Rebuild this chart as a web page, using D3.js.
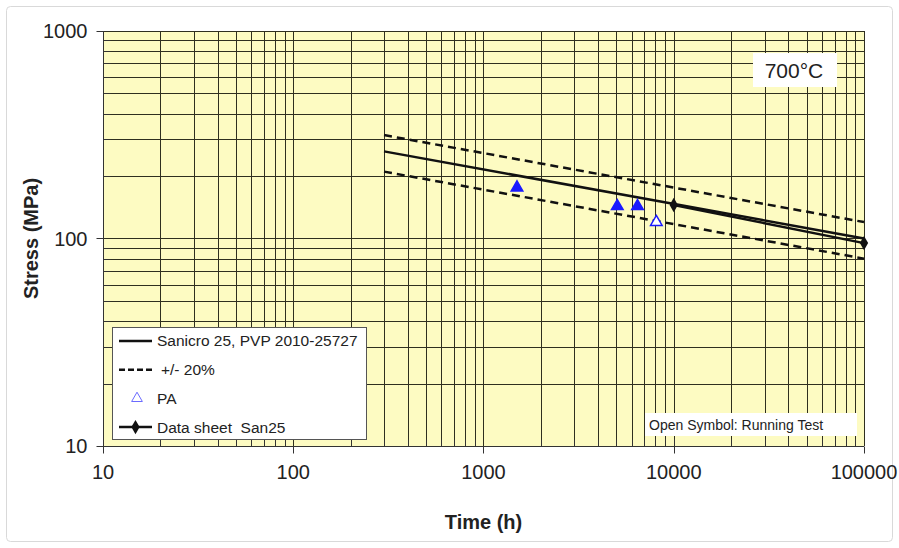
<!DOCTYPE html>
<html>
<head>
<meta charset="utf-8">
<script src="https://cdn.jsdelivr.net/npm/d3@7"></script>
<style>
  body { margin: 0; background: #fff; }
  text { font-family: "Liberation Sans", Arial, sans-serif; white-space: pre; }
</style>
</head>
<body>
<div id="chart"></div>
<script>
/**
 * DATA
 * */
const xTicks = [10, 100, 1000, 10000, 100000];
const yTicks = [10, 100, 1000];

// Sanicro 25, PVP 2010-25727
const pvpTime = [300, 100000];
const pvpStress = [263, 100];

// +/- 20% band
const bandTime = [300, 100000];
const bandUpper = [315, 120];
const bandLower = [210, 80];

// PA tests (open = running)
const paTime = [1500, 5050, 6450, 8100];
const paStress = [176, 143, 143, 120];
const paRunning = [false, false, false, true];

// Data sheet San25
const sheetTime = [10000, 100000];
const sheetStress = [145, 95];

/**
 * CONSTANTS
 * */
const width = 899,
  height = 548,
  margin = { top: 31, bottom: 102, left: 103, right: 35 };

const svg = d3.select("#chart")
  .append("svg")
  .attr("width", width)
  .attr("height", height);

// outer chart border
svg.append("rect")
  .attr("x", 6.5).attr("y", 6.5)
  .attr("width", 886).attr("height", 535)
  .attr("rx", 4)
  .attr("fill", "#fff")
  .attr("stroke", "#d9d9d9");

const x = d3.scaleLog()
  .domain([10, 100000])
  .range([margin.left, width - margin.right]);

const y = d3.scaleLog()
  .domain([10, 1000])
  .range([height - margin.bottom, margin.top]);

// plot background
svg.append("rect")
  .attr("x", margin.left).attr("y", margin.top)
  .attr("width", x.range()[1] - x.range()[0])
  .attr("height", y.range()[0] - y.range()[1])
  .attr("fill", "#fdfbc2");

// grid lines (major + minor)
const xGrid = x.ticks();
const yGrid = y.ticks();
const grid = svg.append("g").attr("stroke", "#2f2f1f").attr("stroke-width", 1);

grid.selectAll(".vg")
  .data(xGrid)
  .join("line")
  .attr("x1", d => Math.round(x(d)) + 0.5)
  .attr("x2", d => Math.round(x(d)) + 0.5)
  .attr("y1", y.range()[1])
  .attr("y2", y.range()[0]);

grid.selectAll(".hg")
  .data(yGrid)
  .join("line")
  .attr("y1", d => Math.round(y(d)) + 0.5)
  .attr("y2", d => Math.round(y(d)) + 0.5)
  .attr("x1", x.range()[0])
  .attr("x2", x.range()[1]);

// axes
const xAxis = svg.append("g")
  .attr("transform", `translate(0,${Math.round(y.range()[0]) + 0.5})`);
xAxis.selectAll(".minor")
  .data(xGrid)
  .join("line")
  .attr("x1", d => Math.round(x(d)) + 0.5)
  .attr("x2", d => Math.round(x(d)) + 0.5)
  .attr("y1", 0)
  .attr("y2", d => xTicks.includes(d) ? 7 : -7)
  .attr("stroke", "#333");
xAxis.append("line")
  .attr("x1", x.range()[0]).attr("x2", x.range()[1])
  .attr("stroke", "#333");
xAxis.selectAll(".lbl")
  .data(xTicks)
  .join("text")
  .attr("x", d => x(d))
  .attr("y", 32)
  .attr("text-anchor", "middle")
  .attr("font-size", 20)
  .attr("fill", "#222")
  .text(d => d);

const yAxis = svg.append("g")
  .attr("transform", `translate(${Math.round(x.range()[0]) + 0.5},0)`);
yAxis.selectAll(".tk")
  .data(yGrid)
  .join("line")
  .attr("y1", d => Math.round(y(d)) + 0.5)
  .attr("y2", d => Math.round(y(d)) + 0.5)
  .attr("x1", d => yTicks.includes(d) ? -7 : 0)
  .attr("x2", d => yTicks.includes(d) ? 0 : 7)
  .attr("stroke", "#333");
yAxis.append("line")
  .attr("y1", y.range()[0]).attr("y2", y.range()[1])
  .attr("stroke", "#333");
yAxis.selectAll(".lbl")
  .data(yTicks)
  .join("text")
  .attr("x", -16)
  .attr("y", d => y(d))
  .attr("dy", "0.35em")
  .attr("text-anchor", "end")
  .attr("font-size", 20)
  .attr("fill", "#222")
  .text(d => d);

// axis titles
svg.append("text")
  .attr("x", (x.range()[0] + x.range()[1]) / 2)
  .attr("y", 529)
  .attr("text-anchor", "middle")
  .attr("font-size", 20)
  .attr("font-weight", "bold")
  .attr("fill", "#222")
  .text("Time (h)");

svg.append("text")
  .attr("transform", `translate(38,${(y.range()[0] + y.range()[1]) / 2}) rotate(-90)`)
  .attr("text-anchor", "middle")
  .attr("font-size", 20)
  .attr("font-weight", "bold")
  .attr("fill", "#222")
  .text("Stress (MPa)");

/**
 * SERIES
 * */
const line = d3.line().x(d => x(d[0])).y(d => y(d[1]));

svg.append("path")
  .datum(d3.zip(bandTime, bandUpper))
  .attr("d", line)
  .attr("fill", "none")
  .attr("stroke", "#111")
  .attr("stroke-width", 2.5)
  .attr("stroke-dasharray", "8,5");

svg.append("path")
  .datum(d3.zip(bandTime, bandLower))
  .attr("d", line)
  .attr("fill", "none")
  .attr("stroke", "#111")
  .attr("stroke-width", 2.5)
  .attr("stroke-dasharray", "8,5");

svg.append("path")
  .datum(d3.zip(pvpTime, pvpStress))
  .attr("d", line)
  .attr("fill", "none")
  .attr("stroke", "#111")
  .attr("stroke-width", 2.5);

svg.append("path")
  .datum(d3.zip(sheetTime, sheetStress))
  .attr("d", line)
  .attr("fill", "none")
  .attr("stroke", "#111")
  .attr("stroke-width", 2.5);

const diamond = d3.symbol().type(d3.symbolDiamond).size(60);
const triangle = d3.symbol().type(d3.symbolTriangle).size(58);

svg.selectAll(".sheet")
  .data(d3.zip(sheetTime, sheetStress))
  .join("path")
  .attr("transform", d => `translate(${x(d[0])},${y(d[1])})`)
  .attr("d", diamond)
  .attr("fill", "#111");

svg.selectAll(".pa")
  .data(paTime.map((t, i) => [t, paStress[i], paRunning[i]]))
  .join("path")
  .attr("transform", d => `translate(${x(d[0])},${y(d[1])})`)
  .attr("d", triangle)
  .attr("fill", d => d[2] ? "#fff" : "#1a1aff")
  .attr("stroke", "#1a1aff")
  .attr("stroke-width", 1.5);

/**
 * ANNOTATIONS
 * */
svg.append("rect")
  .attr("x", 753).attr("y", 53)
  .attr("width", 84).attr("height", 34)
  .attr("fill", "#fff");
svg.append("text")
  .attr("x", 794).attr("y", 71)
  .attr("dy", "0.35em")
  .attr("text-anchor", "middle")
  .attr("font-size", 21)
  .attr("fill", "#222")
  .text("700°C");

svg.append("rect")
  .attr("x", 645).attr("y", 413)
  .attr("width", 212).attr("height", 23)
  .attr("fill", "#fff");
svg.append("text")
  .attr("x", 649).attr("y", 425)
  .attr("dy", "0.35em")
  .attr("font-family", "'Open Sans', sans-serif")
  .attr("font-size", 14)
  .attr("fill", "#222")
  .text("Open Symbol: Running Test");

// redraw minor x ticks over the annotation box
svg.append("g")
  .selectAll("line")
  .data(xGrid.filter(d => x(d) > 645 && x(d) < 857))
  .join("line")
  .attr("x1", d => Math.round(x(d)) + 0.5)
  .attr("x2", d => Math.round(x(d)) + 0.5)
  .attr("y1", Math.round(y.range()[0]) + 0.5)
  .attr("y2", Math.round(y.range()[0]) - 7)
  .attr("stroke", "#333");

/**
 * LEGEND
 * */
const legend = svg.append("g");
legend.append("rect")
  .attr("x", 112.5).attr("y", 327.5)
  .attr("width", 254).attr("height", 112)
  .attr("fill", "#fff")
  .attr("stroke", "#555");

const rows = [
  { label: "Sanicro 25, PVP 2010-25727", kind: "solid" },
  { label: "+/- 20%", kind: "dash" },
  { label: "PA", kind: "tri" },
  { label: "Data sheet  San25", kind: "diamond" },
];

const row = legend.selectAll(".row")
  .data(rows)
  .join("g")
  .attr("transform", (d, i) => `translate(0,${341 + i * 28.7})`);

row.filter(d => d.kind !== "tri")
  .append("line")
  .attr("x1", 119).attr("x2", 152)
  .attr("stroke", "#111")
  .attr("stroke-width", 2.5)
  .attr("stroke-dasharray", d => d.kind === "dash" ? "6,3" : null);

row.filter(d => d.kind === "diamond")
  .append("path")
  .attr("transform", "translate(135.5,0)")
  .attr("d", diamond)
  .attr("fill", "#111");

row.filter(d => d.kind === "tri")
  .append("path")
  .attr("transform", "translate(137,0)")
  .attr("d", d3.symbol().type(d3.symbolTriangle).size(50))
  .attr("fill", "#fff")
  .attr("stroke", "#6b6bff")
  .attr("stroke-width", 1);

row.append("text")
  .attr("x", d => d.kind === "dash" ? 161 : 157)
  .attr("dy", "0.35em")
  .attr("font-size", 15.5)
  .attr("fill", "#222")
  .text(d => d.label);
</script>
</body>
</html>
